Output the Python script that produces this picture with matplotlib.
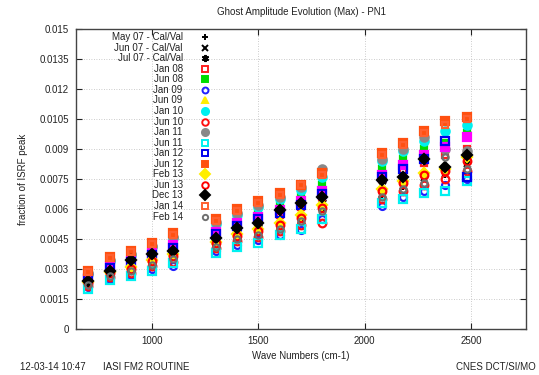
import numpy as np
import matplotlib
matplotlib.use("Agg")
import matplotlib.pyplot as plt
from matplotlib.ticker import FixedLocator

plt.rcParams['font.family'] = ['Liberation Sans', 'DejaVu Sans']
plt.rcParams['font.size'] = 7

# wave numbers (cm-1) of the measured ghost channels
wn = [700, 800, 900, 1000, 1100, 1300, 1400, 1500, 1600, 1700, 1800,
      2080, 2180, 2280, 2380, 2480]

# ghost amplitude (max), in units of 1e-3 of the ISRF peak
may07 = [2.25, 2.70, 2.95, 3.30, 3.55, 4.20, 4.55, 4.80, 5.10, 5.50, 6.00, 6.70, 7.10, 7.50, 7.70, 8.20]
jun07 = [2.20, 2.75, 3.00, 3.30, 3.60, 4.25, 4.60, 4.85, 5.15, 5.45, 6.05, 6.75, 7.15, 7.55, 7.75, 8.25]
jul07 = [2.30, 2.80, 3.45, 3.80, 3.95, 4.50, 5.00, 5.25, 5.90, 6.25, 6.50, 7.40, 7.55, 8.45, 8.05, 8.65]
jan08 = [2.45, 3.00, 3.25, 3.60, 4.00, 4.65, 5.00, 5.35, 5.70, 6.10, 6.60, 7.50, 7.90, 8.30, 8.70, 9.00]
jun08 = [2.60, 3.25, 3.50, 3.90, 4.30, 5.00, 5.45, 5.80, 6.15, 6.60, 7.20, 8.00, 8.50, 9.00, 9.30, 9.80]
jan09 = [2.10, 2.50, 2.70, 3.00, 3.15, 3.90, 4.20, 4.45, 4.70, 4.95, 5.50, 6.15, 6.60, 6.90, 7.20, 7.50]
jun09 = [2.35, 2.90, 3.15, 3.50, 3.80, 4.40, 4.80, 5.10, 5.40, 5.80, 6.30, 7.10, 7.50, 7.90, 8.10, 8.70]
jan10 = [2.75, 3.40, 3.70, 4.10, 4.55, 5.25, 5.70, 6.10, 6.50, 6.95, 7.60, 8.40, 8.90, 9.40, 9.90, 10.2]
jun10 = [2.15, 2.60, 2.80, 3.15, 3.35, 4.05, 4.40, 4.60, 4.90, 5.20, 5.30, 6.50, 6.90, 7.20, 7.50, 7.90]
jan11 = [2.80, 3.45, 3.75, 4.15, 4.60, 5.35, 5.80, 6.20, 6.60, 7.10, 8.00, 8.50, 9.00, 9.60, 9.00, 8.90]
jun11 = [2.00, 2.45, 2.65, 2.90, 3.30, 3.80, 4.10, 4.30, 4.70, 5.00, 5.50, 6.30, 6.50, 6.80, 6.90, 7.40]
magenta = [2.55, 3.15, 3.40, 3.80, 4.20, 4.85, 5.30, 5.60, 5.95, 6.40, 6.90, 7.70, 8.20, 8.70, 9.10, 9.60]
jan12 = [2.50, 3.05, 3.35, 3.70, 4.05, 4.75, 5.15, 5.50, 5.80, 6.20, 6.75, 7.60, 8.00, 8.50, 9.40, 7.60]
jun12 = [2.90, 3.60, 3.90, 4.30, 4.80, 5.50, 6.00, 6.40, 6.80, 7.20, 7.80, 8.80, 9.30, 9.90, 10.4, 10.6]
feb13 = [2.35, 2.85, 3.10, 3.45, 3.75, 4.35, 4.75, 5.00, 5.30, 5.70, 6.20, 7.00, 7.40, 7.80, 8.00, 8.60]
jun13 = [2.30, 2.80, 3.00, 3.40, 3.65, 4.30, 4.65, 4.90, 5.20, 5.55, 6.05, 6.90, 7.30, 7.70, 7.90, 8.40]
dec13 = [2.40, 2.90, 3.45, 3.75, 3.90, 4.55, 5.05, 5.30, 5.95, 6.30, 6.60, 7.45, 7.60, 8.50, 8.10, 8.70]
jan14 = [2.85, 3.55, 3.85, 4.25, 4.70, 5.40, 5.90, 6.30, 6.70, 7.20, 7.70, 8.70, 9.20, 9.80, 10.2, 10.5]
feb14 = [2.20, 2.65, 2.90, 3.20, 3.50, 4.10, 4.50, 4.70, 5.00, 5.40, 5.90, 6.60, 7.00, 7.30, 8.60, 8.00]

# label, values, marker, size, facecolor, edgecolor
series = [
    ("May 07 - Cal/Val", may07, "+", 5, "none", "k"),
    ("Jun 07 - Cal/Val", jun07, "x", 4.5, "none", "k"),
    ("Jul 07 - Cal/Val", jul07, (6, 2, 0), 6, "k", "k"),
    ("Jan 08", jan08, "s", 4.5, "none", "#ff2020"),
    ("Jun 08", jun08, "s", 5, "#00dd00", "#00dd00"),
    ("Jan 09", jan09, "o", 5, "none", "#2020ff"),
    ("Jun 09", jun09, "^", 5, "#ffee00", "#ffee00"),
    ("Jan 10", jan10, "o", 6, "#00f0f0", "#00f0f0"),
    ("Jun 10", jun10, "o", 5.5, "none", "#ff1010"),
    ("Jan 11", jan11, "o", 6, "#888888", "#888888"),
    ("Jun 11", jun11, "s", 5.5, "none", "#00f0f0"),
    (None, magenta, "s", 5.5, "#ff00ff", "#ff00ff"),
    ("Jan 12", jan12, "s", 5.5, "none", "#0000ee"),
    ("Jun 12", jun12, "s", 5.5, "#ff5010", "#ff5010"),
    ("Feb 13", feb13, "D", 5.5, "#ffee00", "#ffee00"),
    ("Jun 13", jun13, "o", 5.5, "none", "#ff0000"),
    ("Dec 13", dec13, "D", 5.5, "k", "k"),
    ("Jan 14", jan14, "s", 4.5, "none", "#ff6030"),
    ("Feb 14", feb14, "o", 4.5, "none", "#707070"),
]

fig = plt.figure(figsize=(5.39, 3.75), dpi=100)
ax = fig.add_axes([0.141, 0.1227, 0.835, 0.8])

for lab, vals, mk, ms, fc, ec in series:
    y = np.array(vals) * 1e-3
    ax.plot(wn, y, ls="none", marker=mk, ms=ms, mfc=fc, mec=ec, mew=1.6, zorder=3)

# gnuplot-like key: right-aligned labels, symbol on the right
row = 0
for lab, vals, mk, ms, fc, ec in series:
    if lab is None:
        continue
    yk = 0.973 - row * 0.0352
    ax.text(0.237, yk, lab, transform=ax.transAxes, ha="right", va="center",
            fontsize=7, color="#222222")
    ax.plot([0.287], [yk], transform=ax.transAxes, ls="none", marker=mk,
            ms=ms * 0.85, mfc=fc, mec=ec, mew=1.4, clip_on=False, zorder=4)
    row += 1

ax.set_xlim(642, 2760)
ax.set_ylim(0, 0.015)
ax.xaxis.set_major_locator(FixedLocator([1000, 1500, 2000, 2500]))
yt = [0, 0.0015, 0.003, 0.0045, 0.006, 0.0075, 0.009, 0.0105, 0.012, 0.0135, 0.015]
ax.set_yticks(yt)
ax.set_yticklabels(["0", "0.0015", "0.003", "0.0045", "0.006", "0.0075",
                    "0.009", "0.0105", "0.012", "0.0135", "0.015"])
ax.tick_params(direction="in", top=True, right=True, length=4, width=0.8,
               labelsize=7, colors="#222222", pad=5)
ax.grid(True, ls=(0, (1, 2)), color="#bbbbbb", lw=0.6)
for s in ax.spines.values():
    s.set_linewidth(1.0)
    s.set_color("#444444")

ax.set_title("Ghost Amplitude Evolution (Max) - PN1", fontsize=7, pad=10, color="#222222")
ax.set_xlabel("Wave Numbers (cm-1)", fontsize=7, labelpad=4, color="#222222")
ax.set_ylabel("fraction of ISRF peak", fontsize=7, labelpad=8, color="#222222")

fig.text(20 / 539, 1 - 367 / 375, "12-03-14 10:47", fontsize=7, va="center", color="#222222")
fig.text(103 / 539, 1 - 367 / 375, "IASI FM2 ROUTINE", fontsize=7, va="center", color="#222222")
fig.text(536 / 539, 1 - 367 / 375, "CNES DCT/SI/MO", fontsize=7, va="center", ha="right", color="#222222")

fig.savefig("out.png", dpi=100)
